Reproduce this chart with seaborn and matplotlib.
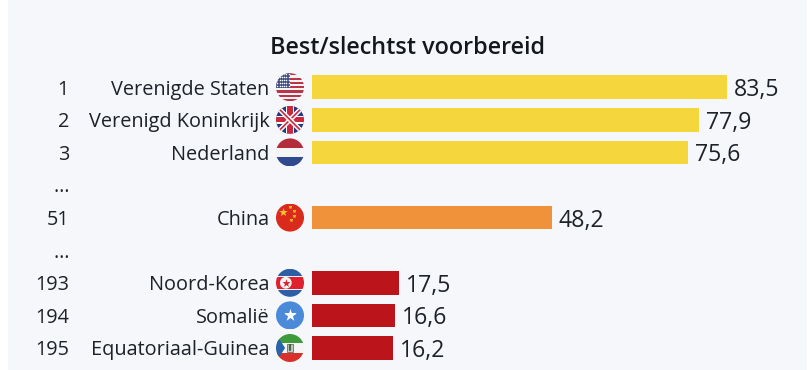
import numpy as np
import pandas as pd
import seaborn as sns
import matplotlib.pyplot as plt
from matplotlib.patches import Rectangle, Circle, Polygon

ranks = ['1', '2', '3', '…', '51', '…', '193', '194', '195']
countries = ['Verenigde Staten', 'Verenigd Koninkrijk', 'Nederland', ' ', 'China', '  ',
             'Noord-Korea', 'Somalië', 'Equatoriaal-Guinea']
values = [83.5, 77.9, 75.6, np.nan, 48.2, np.nan, 17.5, 16.6, 16.2]
groups = ['best', 'best', 'best', 'best', 'mid', 'mid', 'worst', 'worst', 'worst']
flags = ['us', 'uk', 'nl', None, 'cn', None, 'kp', 'so', 'gq']
title = 'Best/slechtst voorbereid'
palette = {'best': '#f5d63d', 'mid': '#ef9239', 'worst': '#bb141a'}

W, H = 812, 370
sns.set_theme(style='white')
plt.rcParams['font.family'] = ['Open Sans', 'DejaVu Sans']
TXT = '#1d2128'

fig = plt.figure(figsize=(W / 100, H / 100), dpi=100, facecolor='white')
fig.patches.append(Rectangle((8 / W, 0), 799 / W, 1, transform=fig.transFigure,
                             facecolor='#f5f7fb', edgecolor='none', zorder=-5))
ax = fig.add_axes([0, 0, 1, 1])
ax.patch.set_alpha(0)

df = pd.DataFrame({'country': countries, 'value': values, 'group': groups})
sns.barplot(data=df, y='country', x='value', hue='group', palette=palette, dodge=False,
            order=countries, width=0.72, legend=False, saturation=1, linewidth=0, ax=ax)

PX = 4.97
STEP = 32.6
ax.set_xlim(-312 / PX, (W - 312) / PX)
ax.set_ylim((H - 87.2) / STEP, -87.2 / STEP)
ax.set_xlabel('')
ax.set_ylabel('')
ax.set_xticks([])
ax.set_yticks([])
sns.despine(ax=ax, left=True, bottom=True)

for i, (r, c, v) in enumerate(zip(ranks, countries, values)):
    ax.annotate(r, xy=(0, i), xytext=(-243 * 0.72, 0), textcoords='offset points',
                ha='right', va='center_baseline', fontsize=14.3, color=TXT)
    if c.strip():
        ax.annotate(c, xy=(0, i), xytext=(-42.5 * 0.72, 0), textcoords='offset points',
                    ha='right', va='center_baseline', fontsize=14.3, color=TXT)
    if not np.isnan(v):
        ax.annotate(f'{v:.1f}'.replace('.', ','), xy=(v, i), xytext=(7 * 0.72, 0),
                    textcoords='offset points', ha='left', va='center_baseline',
                    fontsize=16.6, color=TXT)

fig.text(408 / W, 1 - 48 / H, title, ha='center', va='center', fontsize=16.85,
         fontweight='semibold', color='#14171c')


def stripes(a, bands):
    tot = sum(b[1] for b in bands)
    y = 1.0
    for col, h in bands:
        hh = 2 * h / tot
        a.add_patch(Rectangle((-1, y - hh), 2, hh, fc=col, ec='none'))
        y -= hh


def draw_flag(a, code):
    if code == 'us':
        stripes(a, [(('#b8354a' if k % 2 == 0 else '#f3f3f3'), 1) for k in range(13)])
        a.add_patch(Rectangle((-1, -0.08), 1.0, 1.08, fc='#3f4f86', ec='none'))
        xs, ys = np.meshgrid(np.linspace(-0.9, -0.1, 6), np.linspace(0.08, 0.92, 5))
        a.scatter(xs.ravel(), ys.ravel(), s=1.2, c='white', lw=0)
    elif code == 'uk':
        a.add_patch(Rectangle((-1, -1), 2, 2, fc='#26367f', ec='none'))
        for s in (1, -1):
            a.plot([-1, 1], [-s, s], color='white', lw=3.4, solid_capstyle='butt')
            a.plot([-1, 1], [-s, s], color='#c9283e', lw=1.2, solid_capstyle='butt')
        a.add_patch(Rectangle((-0.3, -1), 0.6, 2, fc='white', ec='none'))
        a.add_patch(Rectangle((-1, -0.3), 2, 0.6, fc='white', ec='none'))
        a.add_patch(Rectangle((-0.18, -1), 0.36, 2, fc='#c9283e', ec='none'))
        a.add_patch(Rectangle((-1, -0.18), 2, 0.36, fc='#c9283e', ec='none'))
    elif code == 'nl':
        stripes(a, [('#b32d3a', 1), ('#f5f5f5', 1), ('#2f4a8f', 1)])
    elif code == 'cn':
        a.add_patch(Rectangle((-1, -1), 2, 2, fc='#d92a1c', ec='none'))
        a.scatter([-0.5], [0.38], s=42, marker='*', c='#f7c52e', lw=0)
        a.scatter([0.02, 0.28, 0.3, 0.05], [0.78, 0.48, 0.12, -0.15], s=9, marker='*',
                  c='#f7c52e', lw=0)
    elif code == 'kp':
        stripes(a, [('#2c5fa6', 0.24), ('#f2f2f2', 0.05), ('#e0202f', 0.42),
                    ('#f2f2f2', 0.05), ('#2c5fa6', 0.24)])
        a.add_patch(Circle((-0.3, 0), 0.42, fc='#f4f4f4', ec='none'))
        a.scatter([-0.3], [0], s=38, marker='*', c='#d81f2c', lw=0)
    elif code == 'so':
        a.add_patch(Rectangle((-1, -1), 2, 2, fc='#4a8ad8', ec='none'))
        a.scatter([0], [0], s=90, marker='*', c='white', lw=0)
    elif code == 'gq':
        stripes(a, [('#3e9a3a', 1), ('#f5f5f5', 1), ('#d8302a', 1)])
        a.add_patch(Polygon([(-1, 1), (-1, -1), (-0.35, 0)], fc='#2a63a8', ec='none'))
        a.add_patch(Rectangle((-0.2, -0.28), 0.4, 0.56, fc='#c9c9c9', ec='#6b6b5a', lw=0.6))
        a.plot([0, 0], [-0.15, 0.2], color='#3e6a3a', lw=1.6)


R = 14
FX = 290
fig.canvas.draw()
for i, code in enumerate(flags):
    if code is None:
        continue
    cy = H - ax.transData.transform((0, i))[1]
    fa = fig.add_axes([(FX - R) / W, 1 - (cy + R) / H, 2 * R / W, 2 * R / H])
    fa.set_xlim(-1, 1)
    fa.set_ylim(-1, 1)
    fa.axis('off')
    draw_flag(fa, code)
    clip = Circle((0, 0), 1, transform=fa.transData)
    for art in list(fa.patches) + list(fa.lines) + list(fa.collections):
        art.set_clip_path(clip)

fig.savefig('out.png', dpi=100, facecolor='white')
